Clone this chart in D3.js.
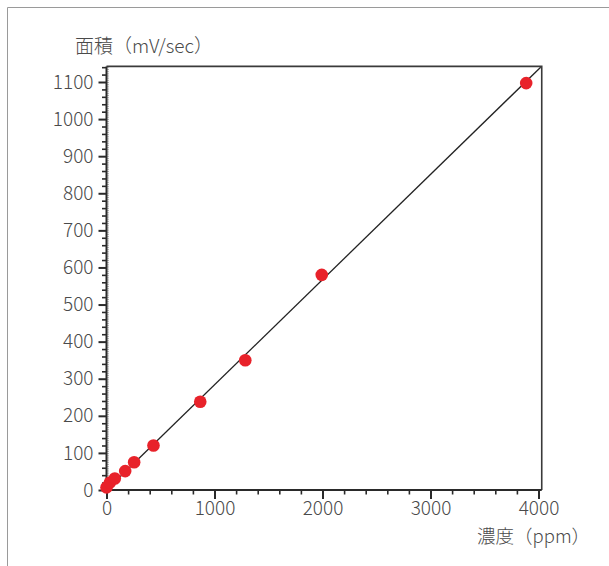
<!DOCTYPE html>
<html>
<head>
<meta charset="utf-8">
<script src="https://cdn.jsdelivr.net/npm/d3@7"></script>
<style>
  body { margin: 0; background: #fff; }
  text { font-family: "Noto Sans CJK JP", "Noto Sans", sans-serif; fill: #4a4a4a; }
</style>
</head>
<body>
<div id="chart"></div>
<script>
// measured points (ppm, mV/sec)
const concentration = [0, 31, 77, 173, 256, 435, 868, 1285, 1993, 3886];
const area = [7, 20, 31, 51, 75, 120, 238, 350, 580, 1097];

// calibration line end points
const fitX = [0, 4020];
const fitY = [0, 1140];

const xTicks = [0, 1000, 2000, 3000, 4000];
const yTicks = [0, 100, 200, 300, 400, 500, 600, 700, 800, 900, 1000, 1100];

const width = 609, height = 566;
const xMax = 4030, yMax = 1142;

const svg = d3.select("#chart").append("svg")
  .attr("width", width)
  .attr("height", height);

// outer frame (top + left only)
svg.append("path")
  .attr("d", "M7.5,566 V7.5 H609")
  .attr("fill", "none")
  .attr("stroke", "#9a9a9a")
  .attr("stroke-width", 1);

const x = d3.scaleLinear().domain([0, 4000]).range([106.5, 538.5]);
const y = d3.scaleLinear().domain([0, 1100]).range([490, 82]);

// box top / right
svg.append("path")
  .attr("d", `M${x(0)},${y(yMax)} H${x(xMax)} V${y(0)}`)
  .attr("fill", "none")
  .attr("stroke", "#3a3a3a")
  .attr("stroke-width", 1.6);

// y axis: fine ticks every 5, inward
svg.append("g")
  .attr("transform", `translate(${x(0)},0)`)
  .call(d3.axisRight(y).tickValues(d3.range(0, 1141, 5)).tickSize(2.5).tickFormat(""))
  .call(g => g.select(".domain").remove())
  .call(g => g.selectAll("line").attr("stroke", "#9a9a9a").attr("stroke-width", 0.8));

// y axis: medium ticks every 20
svg.append("g")
  .attr("transform", `translate(${x(0)},0)`)
  .call(d3.axisLeft(y).tickValues(d3.range(0, 1141, 20).filter(v => v % 100)).tickSize(4.5).tickFormat(""))
  .call(g => g.select(".domain").remove())
  .call(g => g.selectAll("line").attr("stroke", "#2a2a2a").attr("stroke-width", 1.6));

// y axis: major ticks + labels
svg.append("g")
  .attr("transform", `translate(${x(0)},0)`)
  .call(d3.axisLeft(y).tickValues(yTicks).tickFormat(d3.format("d")).tickSize(8).tickPadding(5).tickSizeOuter(0))
  .call(g => g.select(".domain").attr("d", `M0,${y(0)}V${y(yMax)}`).attr("stroke", "#2a2a2a").attr("stroke-width", 2))
  .call(g => g.selectAll("line").attr("stroke", "#2a2a2a").attr("stroke-width", 2))
  .call(g => g.selectAll("text").attr("font-size", 19).attr("font-weight", 300)
    .style("font-family", '"Noto Sans CJK JP", "Noto Sans", sans-serif').attr("fill", "#4a4a4a"));

// x axis: minor ticks every 200
svg.append("g")
  .attr("transform", `translate(0,${y(0)})`)
  .call(d3.axisBottom(x).tickValues(d3.range(200, 4000, 200).filter(v => v % 1000)).tickSize(4.5).tickFormat(""))
  .call(g => g.select(".domain").remove())
  .call(g => g.selectAll("line").attr("stroke", "#2a2a2a").attr("stroke-width", 1.6));

// x axis: major ticks + labels
svg.append("g")
  .attr("transform", `translate(0,${y(0)})`)
  .call(d3.axisBottom(x).tickValues(xTicks).tickFormat(d3.format("d")).tickSize(9).tickPadding(3).tickSizeOuter(0))
  .call(g => g.select(".domain").attr("d", `M${x(0)},0H${x(xMax)}`).attr("stroke", "#2a2a2a").attr("stroke-width", 2))
  .call(g => g.selectAll("line").attr("stroke", "#2a2a2a").attr("stroke-width", 2))
  .call(g => g.selectAll("text").attr("font-size", 19).attr("font-weight", 300)
    .style("font-family", '"Noto Sans CJK JP", "Noto Sans", sans-serif').attr("fill", "#4a4a4a"));

// calibration line
svg.append("path")
  .datum(fitX.map((v, i) => [v, fitY[i]]))
  .attr("d", d3.line().x(d => x(d[0])).y(d => y(d[1])))
  .attr("fill", "none")
  .attr("stroke", "#222")
  .attr("stroke-width", 1.3);

// points
svg.selectAll("circle.pt")
  .data(concentration.map((v, i) => [v, area[i]]))
  .enter().append("circle")
  .attr("class", "pt")
  .attr("cx", d => x(d[0]))
  .attr("cy", d => y(d[1]))
  .attr("r", 6.3)
  .attr("fill", "#e8222a");

// axis titles
svg.append("text")
  .attr("x", 75)
  .attr("y", 53)
  .attr("font-size", 19)
  .attr("font-weight", 300)
  .text("面積（mV/sec）");

svg.append("text")
  .attr("x", 477)
  .attr("y", 543)
  .attr("font-size", 18.5)
  .attr("font-weight", 300)
  .text("濃度（ppm）");
</script>
</body>
</html>
